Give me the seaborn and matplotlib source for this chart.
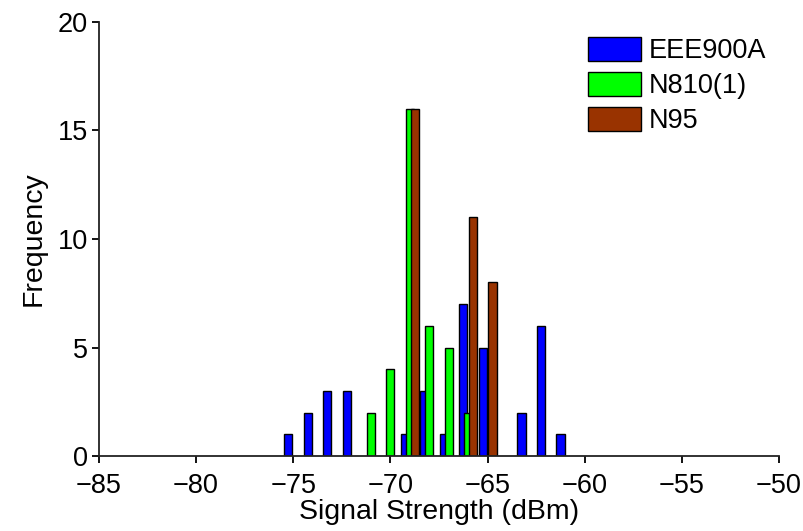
import matplotlib
matplotlib.use("Agg")
import matplotlib.pyplot as plt
import seaborn as sns
import numpy as np
import pandas as pd
from matplotlib.patches import Patch

# Data (signal strength in dBm, frequency counts)
eee_x = [-75, -74, -73, -72, -69, -68, -67, -66, -65, -63, -62, -61]
eee_y = [1, 2, 3, 3, 1, 3, 1, 7, 5, 2, 6, 1]
n810_x = [-71, -70, -69, -68, -67, -66]
n810_y = [2, 4, 16, 6, 5, 2]
n95_x = [-69, -66, -65]
n95_y = [16, 11, 8]

labels = ["EEE900A", "N810(1)", "N95"]
colors = ["#0000FF", "#00FF00", "#993300"]
offsets = [-0.25, 0.0, 0.25]
xticks = [-85, -80, -75, -70, -65, -60, -55, -50]
yticks = [0, 5, 10, 15, 20]

sns.set_style("ticks")
plt.rcParams['font.family'] = ['Liberation Sans', 'DejaVu Sans']
plt.rcParams['text.color'] = 'black'
plt.rcParams['axes.labelcolor'] = 'black'
plt.rcParams['xtick.color'] = 'black'
plt.rcParams['ytick.color'] = 'black'

fig = plt.figure(figsize=(8.04, 5.31), dpi=100)
ax = fig.add_axes([0.123, 0.141, 0.846, 0.818])

series = [(eee_x, eee_y), (n810_x, n810_y), (n95_x, n95_y)]
for (xs, ys), lab, col, off in zip(series, labels, colors, offsets):
    df = pd.DataFrame({"x": np.array(xs, dtype=float) + off, "y": ys})
    sns.barplot(data=df, x="x", y="y", native_scale=True, width=0.42,
                color=col, saturation=1, edgecolor="black", linewidth=1.0,
                errorbar=None, ax=ax)

ax.set_xlim(-85, -50)
ax.set_ylim(0, 20)
ax.set_xticks(xticks)
ax.set_xticklabels([f"\u2212{abs(t)}" for t in xticks])
ax.set_yticks(yticks)
ax.set_yticklabels([str(t) for t in yticks])
ax.tick_params(axis="x", labelsize=19.5, length=5, width=1.3, direction="out", pad=7)
ax.tick_params(axis="y", labelsize=19.5, length=5, width=1.3, direction="out", pad=3)
ax.set_xlabel("Signal Strength (dBm)", fontsize=20.5, labelpad=0)
ax.set_ylabel("Frequency", fontsize=20.5, labelpad=8)
sns.despine(ax=ax)
for s in ["left", "bottom"]:
    ax.spines[s].set_linewidth(1.3)
    ax.spines[s].set_color("#222222")

handles = [Patch(facecolor=c, edgecolor="black", linewidth=1.0, label=l)
           for c, l in zip(colors, labels)]
ax.legend(handles=handles, loc="upper right", bbox_to_anchor=(1.009, 1.008),
          frameon=False, fontsize=19.5, handlelength=1.93, handleheight=0.95,
          handletextpad=0.3, labelspacing=0.3, borderaxespad=0.3)

fig.savefig("out.png", dpi=100)
